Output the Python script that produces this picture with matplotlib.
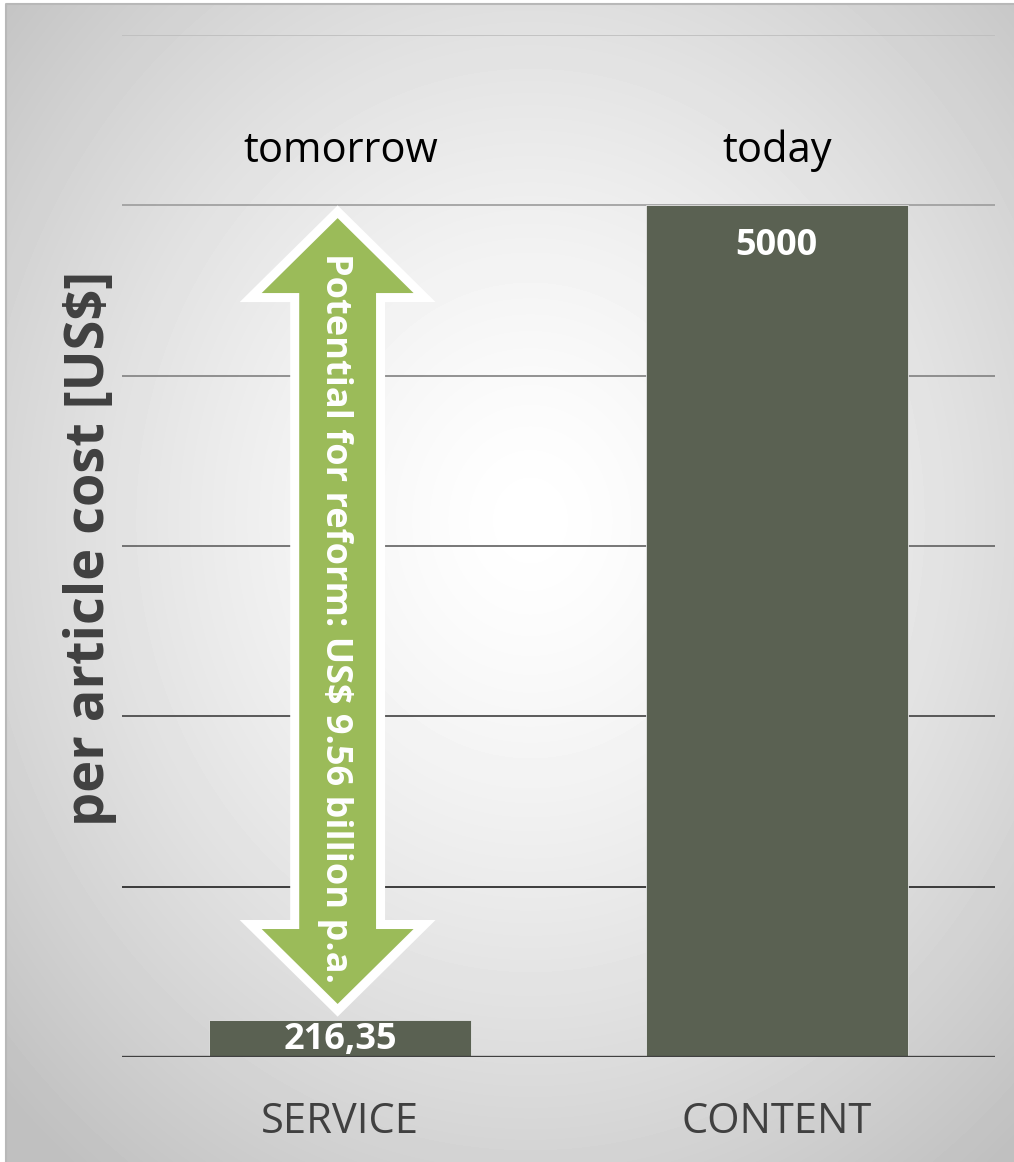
import numpy as np
import matplotlib
matplotlib.use('Agg')
import matplotlib.pyplot as plt
from matplotlib.patches import Polygon

plt.rcParams['font.family'] = ['Open Sans', 'DejaVu Sans']

categories = ['SERVICE', 'CONTENT']
top_labels = ['tomorrow', 'today']
values = [216.35, 5000]
value_labels = ['216,35', '5000']
grid_levels = [1000, 2000, 3000, 4000, 5000, 6000]
grid_colors = ['#202020', '#404040', '#606060', '#808080', '#9c9c9c', '#bdbdbd']
arrow_text = 'Potential for reform: US$ 9.56 billion p.a.'

fig = plt.figure(figsize=(10.14, 11.62), dpi=100)

# radial gradient background
bg = fig.add_axes([0, 0, 1, 1])
yy, xx = np.mgrid[0:1162, 0:1014]
r = np.sqrt(((xx - 530) / 1014.0) ** 2 + ((yy - 520) / 1162.0) ** 2)
shade = 1.0 - np.clip(r / 0.72, 0, 1) ** 1.4 * 0.25
bg.imshow(shade, cmap='gray', vmin=0, vmax=1, extent=[0, 1014, 1162, 0], aspect='auto')
bg.plot([6, 6, 1014], [1162, 4, 4], color='#b8b8b8', lw=1.5)
bg.fill_between([0, 5], 0, 1162, color='white')
bg.fill_between([0, 1014], 0, 3, color='white')
bg.set_xlim(0, 1014)
bg.set_ylim(1162, 0)
bg.axis('off')

ax = fig.add_axes([122 / 1014, 105 / 1162, 873 / 1014, 1022 / 1162])
ax.patch.set_alpha(0)
x = np.arange(len(categories))
ax.set_xlim(-0.5, 1.5)
ax.set_ylim(0, 6000)

for lvl, c in zip(grid_levels, grid_colors):
    ax.axhline(lvl, color=c, lw=1.2, zorder=1)
ax.axhline(0, color='#404040', lw=2.4, zorder=4)

ax.bar(x, values, width=0.6, color='#5a6152', edgecolor='#e6e6e6', lw=0.6, zorder=3)

for xi, v, lab in zip(x, values, value_labels):
    if v > 1000:
        ax.text(xi, v - 240, lab, ha='center', va='center', color='white',
                fontsize=26, fontweight='bold', zorder=5)
    else:
        ax.text(xi, v / 2 - 10, lab, ha='center', va='center', color='white',
                fontsize=26, fontweight='bold', zorder=5)

for xi, lab in zip(x, top_labels):
    ax.text(xi, 5320, lab, ha='center', va='center', color='black', fontsize=30)

# double arrow from the small bar up to the big bar
top = values[1] - 75
bot = values[0] + 95
head = 440
hw = 0.174
sw = 0.088
xc = -0.006
pts = [(xc, top), (xc + hw, top - head), (xc + sw, top - head), (xc + sw, bot + head),
       (xc + hw, bot + head), (xc, bot), (xc - hw, bot + head), (xc - sw, bot + head),
       (xc - sw, top - head), (xc - hw, top - head)]
ax.add_patch(Polygon(pts, closed=True, facecolor='white', edgecolor='white',
                     lw=13, joinstyle='miter', zorder=6))
ax.add_patch(Polygon(pts, closed=True, facecolor='#9bbb59', edgecolor='none', zorder=7))
ax.text(xc - 0.005, (top + bot) / 2 - 40, arrow_text, rotation=-90, ha='center', va='center',
        color='white', fontsize=26, fontweight='bold', zorder=8)

ax.set_xticks(x)
ax.set_xticklabels(categories, fontsize=30, color='#404040')
ax.tick_params(axis='x', length=0, pad=32)
ax.set_yticks([])
for s in ax.spines.values():
    s.set_visible(False)

fig.text(90 / 1014, 1 - 548 / 1162, 'per article cost [US$]', rotation=90, ha='center',
         va='center', fontsize=39, fontweight='bold', color='#404040')

fig.savefig('out.png', dpi=100)
